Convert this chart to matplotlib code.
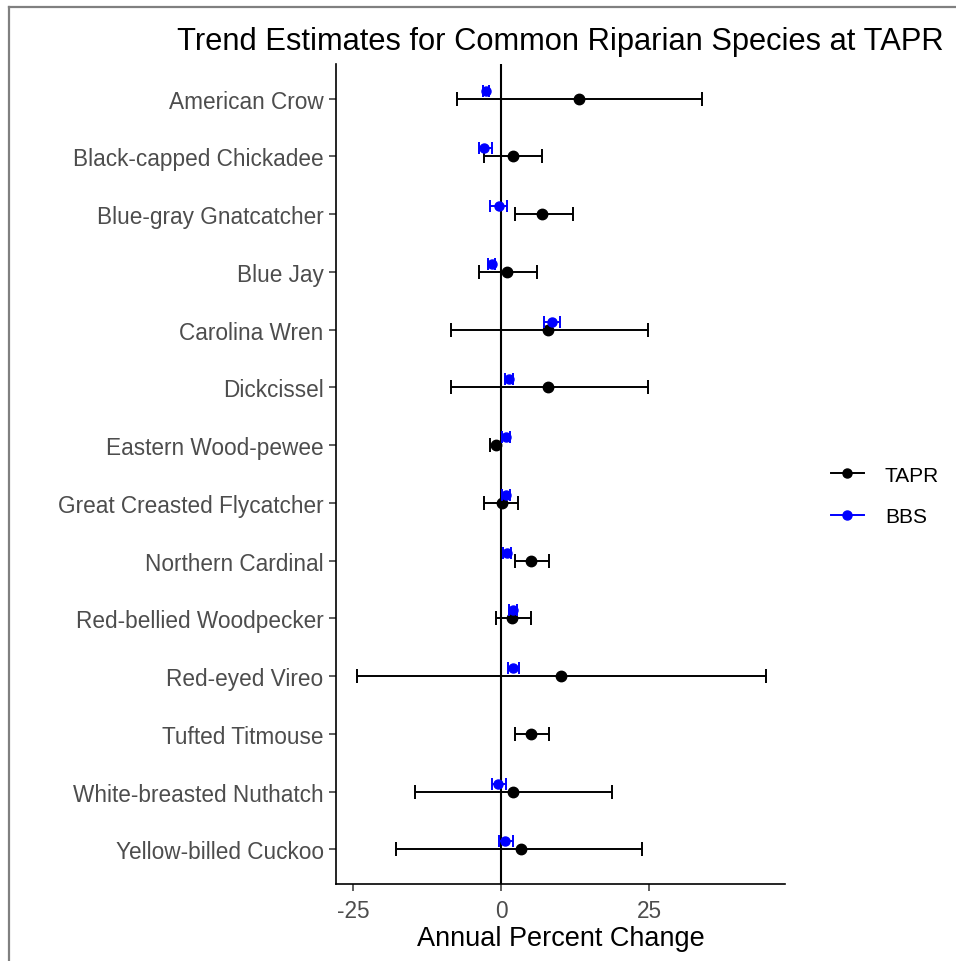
import matplotlib
matplotlib.use("Agg")
import matplotlib.pyplot as plt
from matplotlib.lines import Line2D
import numpy as np

plt.rcParams['font.family'] = ['Liberation Sans', 'DejaVu Sans']
plt.rcParams['axes.unicode_minus'] = False

species = [
    "American Crow", "Black-capped Chickadee", "Blue-gray Gnatcatcher", "Blue Jay",
    "Carolina Wren", "Dickcissel", "Eastern Wood-pewee", "Great Creasted Flycatcher",
    "Northern Cardinal", "Red-bellied Woodpecker", "Red-eyed Vireo", "Tufted Titmouse",
    "White-breasted Nuthatch", "Yellow-billed Cuckoo",
]
tapr_est = [13.1, 2.0, 7.0, 1.0, 8.0, 8.0, -0.9, 0.1, 5.1, 1.9, 10.2, 5.1, 2.0, 3.3]
tapr_lo = [-7.5, -2.8, 2.3, -3.7, -8.5, -8.5, -1.8, -2.8, 2.3, -0.9, -24.4, 2.3, -14.5, -17.7]
tapr_hi = [34.0, 7.0, 12.1, 6.1, 24.8, 24.8, 0.0, 2.9, 8.1, 5.1, 44.8, 8.1, 18.8, 23.8]
bbs_est = [-2.5, -2.9, -0.3, -1.6, 8.6, 1.35, 0.8, 0.8, 1.0, 2.0, 2.1, np.nan, -0.45, 0.7]
bbs_lo = [-3.0, -3.8, -1.9, -2.2, 7.3, 0.6, 0.2, 0.2, 0.4, 1.3, 1.2, np.nan, -1.5, -0.3]
bbs_hi = [-2.0, -1.5, 1.0, -1.0, 10.0, 2.1, 1.5, 1.5, 1.7, 2.7, 3.0, np.nan, 0.8, 2.1]
x_ticks = [-25, 0, 25]

W, H = 956, 962
fig = plt.figure(figsize=(W / 100, H / 100), dpi=100)
ax = fig.add_axes([336 / W, 1 - 885 / H, (785 - 336) / W, (885 - 65) / H])

y = np.arange(len(species))
te, tl, th = map(np.asarray, (tapr_est, tapr_lo, tapr_hi))
be, bl, bh = map(np.asarray, (bbs_est, bbs_lo, bbs_hi))

ax.axvline(0, color='black', lw=1.5, zorder=1)
ax.errorbar(te, y, xerr=[te - tl, th - te], fmt='o', color='black', ms=7.5,
            lw=1.4, capsize=4.8, capthick=1.4, zorder=3)
ax.errorbar(be, y - 0.14, xerr=[be - bl, bh - be], fmt='o', color='#0000FF', ms=6.5,
            lw=1.4, capsize=4.2, capthick=1.4, zorder=4)

ax.set_ylim(len(species) - 0.4, -0.6)
ax.set_xlim(-27.9, 48.0)
ax.set_yticks(y)
ax.set_yticklabels(species)
ax.set_xticks(x_ticks)
ax.tick_params(axis='both', colors='#333333', labelcolor='#4D4D4D', labelsize=16.3,
               length=5, width=1.1)
ax.tick_params(axis='y', pad=4)
ax.tick_params(axis='x', pad=6)
for side in ('top', 'right'):
    ax.spines[side].set_visible(False)
for side in ('left', 'bottom'):
    ax.spines[side].set_linewidth(1.2)
    ax.spines[side].set_color('black')

ax.set_xlabel("Annual Percent Change", fontsize=19.5, labelpad=2)
ax.set_title("Trend Estimates for Common Riparian Species at TAPR", fontsize=22.2, pad=11)

handles = [
    Line2D([], [], color='black', marker='o', ms=6.5, lw=1.4),
    Line2D([], [], color='#0000FF', marker='o', ms=6.5, lw=1.4),
]
fig.legend(handles, ["TAPR", "BBS"], loc='center left', bbox_to_anchor=(812 / W, 1 - 497 / H),
           frameon=False, fontsize=15, handlelength=1.6, labelspacing=1.1, handletextpad=1.0)

# grey screenshot border on left and top
fig.add_artist(Line2D([8.5 / W, 8.5 / W], [0, 1 - 7.5 / H], transform=fig.transFigure,
                      color='#808080', lw=1.6))
fig.add_artist(Line2D([8.5 / W, 1], [1 - 7.5 / H, 1 - 7.5 / H], transform=fig.transFigure,
                      color='#808080', lw=1.6))

fig.savefig("out.png", dpi=100)
